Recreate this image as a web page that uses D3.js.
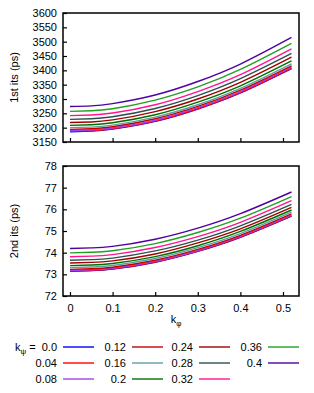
<!DOCTYPE html>
<html>
<head>
<meta charset="utf-8">
<script src="https://cdn.jsdelivr.net/npm/d3@7"></script>
<style>
  body { margin: 0; background: #fff; }
  text { font-family: "Liberation Sans", Arial, sans-serif; fill: #000; }
</style>
</head>
<body>
<div id="chart"></div>
<script>
// data
const kphi = [0, 0.05, 0.1, 0.2, 0.3, 0.4, 0.52];
const kpsi = ["0.0", "0.04", "0.08", "0.12", "0.16", "0.2", "0.24", "0.28", "0.32", "0.36", "0.4"];
const colors = ["#0000ff", "#ff0000", "#a040f0", "#c80000", "#5f9ea0", "#007000",
                "#a00000", "#2f4f4f", "#ff1493", "#22a022", "#5000a0"];

const its1 = [
  [3186, 3188, 3195, 3222, 3265, 3321, 3406],
  [3187, 3189, 3196, 3223, 3266, 3322, 3407],
  [3190, 3192, 3199, 3226, 3270, 3326, 3411],
  [3194, 3196, 3203, 3231, 3274, 3331, 3416],
  [3200, 3202, 3209, 3237, 3280, 3337, 3423],
  [3208, 3210, 3217, 3245, 3289, 3346, 3433],
  [3218, 3220, 3227, 3256, 3300, 3358, 3446],
  [3229, 3231, 3238, 3267, 3312, 3371, 3459],
  [3242, 3244, 3251, 3280, 3326, 3385, 3475],
  [3257, 3259, 3266, 3296, 3342, 3403, 3494],
  [3274, 3276, 3284, 3314, 3361, 3422, 3515]
];

const its2 = [
  [73.14, 73.17, 73.24, 73.56, 74.06, 74.71, 75.69],
  [73.15, 73.18, 73.25, 73.57, 74.07, 74.72, 75.70],
  [73.18, 73.21, 73.28, 73.60, 74.10, 74.75, 75.73],
  [73.23, 73.26, 73.33, 73.65, 74.15, 74.80, 75.79],
  [73.31, 73.34, 73.41, 73.73, 74.23, 74.88, 75.87],
  [73.40, 73.43, 73.50, 73.82, 74.32, 74.98, 75.97],
  [73.52, 73.55, 73.62, 73.94, 74.45, 75.10, 76.09],
  [73.65, 73.68, 73.75, 74.08, 74.58, 75.24, 76.23],
  [73.81, 73.84, 73.91, 74.24, 74.74, 75.40, 76.40],
  [73.99, 74.02, 74.09, 74.42, 74.93, 75.59, 76.59],
  [74.19, 74.22, 74.29, 74.62, 75.13, 75.80, 76.80]
];

const xTicks = [0, 0.1, 0.2, 0.3, 0.4, 0.5];
const y1Ticks = [3150, 3200, 3250, 3300, 3350, 3400, 3450, 3500, 3550, 3600];
const y2Ticks = [72, 73, 74, 75, 76, 77, 78];

const width = 314;
const height = 393;

const svg = d3.select("#chart").append("svg")
    .attr("width", width)
    .attr("height", height);

const x = d3.scaleLinear()
    .domain([-0.0164, 0.5376])
    .range([63, 299]);

function panel(series, yDomain, yTicks, top, bottom, label, showX) {
    const y = d3.scaleLinear().domain(yDomain).range([bottom, top]);
    const g = svg.append("g");

    const line = d3.line()
        .x((d, i) => x(kphi[i]))
        .y(d => y(d))
        .curve(d3.curveNatural);

    g.selectAll("path.curve")
        .data(series)
        .join("path")
        .attr("class", "curve")
        .attr("d", line)
        .attr("fill", "none")
        .attr("stroke", (d, i) => colors[i])
        .attr("stroke-width", 1.4);

    // left axis, ticks inside
    const yAxis = d3.axisLeft(y).tickValues(yTicks).tickSize(-4).tickPadding(6)
        .tickFormat(d3.format("d"));
    const ya = g.append("g").attr("transform", "translate(63,0)").call(yAxis);
    ya.select(".domain").remove();
    ya.selectAll("text").style("font-size", "11px")
        .style("font-family", "'Liberation Sans', Arial, sans-serif");
    ya.selectAll("line").attr("stroke-width", 1.2);

    const xAxis = d3.axisBottom(x).tickValues(xTicks).tickSize(-4).tickPadding(8)
        .tickFormat(d => showX ? (d === 0 ? "0" : d3.format(".1f")(d)) : "");
    const xa = g.append("g").attr("transform", `translate(0,${bottom})`).call(xAxis);
    xa.select(".domain").remove();
    xa.selectAll("text").style("font-size", "11px")
        .style("font-family", "'Liberation Sans', Arial, sans-serif");
    xa.selectAll("line").attr("stroke-width", 1.2);

    g.append("rect")
        .attr("x", 63).attr("y", top)
        .attr("width", 236).attr("height", bottom - top)
        .attr("fill", "none")
        .attr("stroke", "#000")
        .attr("stroke-width", 1.5);

    g.append("text")
        .attr("transform", `translate(18,${(top + bottom) / 2}) rotate(-90)`)
        .attr("text-anchor", "middle")
        .style("font-size", "11px")
        .text(label);
}

panel(its1, [3150, 3600], y1Ticks, 13, 142, "1st its (ps)", false);
panel(its2, [72, 78], y2Ticks, 166, 296, "2nd its (ps)", true);

// x label k_phi
const xl = svg.append("text")
    .attr("x", 176).attr("y", 323)
    .attr("text-anchor", "middle")
    .style("font-size", "11px");
xl.append("tspan").text("k");
xl.append("tspan").attr("dy", 3).style("font-size", "8px").text("φ");

// legend
const colRight = [57, 126, 193, 262];
const rowY = [347, 363, 379];
const leg = svg.append("g");
kpsi.forEach((k, i) => {
    const c = Math.floor(i / 3), r = i % 3;
    leg.append("text")
        .attr("x", colRight[c]).attr("y", rowY[r] + 4)
        .attr("text-anchor", "end")
        .style("font-size", "11px")
        .text(k);
    leg.append("line")
        .attr("x1", colRight[c] + 6).attr("x2", colRight[c] + 37)
        .attr("y1", rowY[r]).attr("y2", rowY[r])
        .attr("stroke", colors[i])
        .attr("stroke-width", 1.4);
});
const kl = leg.append("text")
    .attr("x", 15).attr("y", rowY[0] + 4)
    .style("font-size", "11px");
kl.append("tspan").text("k");
kl.append("tspan").attr("dy", 3).style("font-size", "8px").text("ψ");
kl.append("tspan").attr("dy", -3).text(" =");
</script>
</body>
</html>
